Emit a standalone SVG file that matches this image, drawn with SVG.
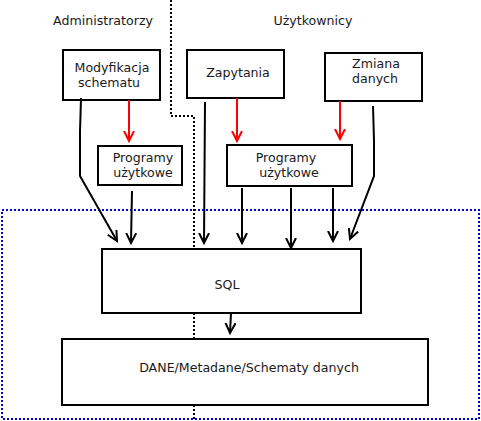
<svg xmlns="http://www.w3.org/2000/svg" width="481" height="421" viewBox="0 0 481 421">
<style>
.box{fill:#fff;stroke:#000;stroke-width:2}
.t{font-family:"DejaVu Sans",sans-serif;font-size:12.6px;fill:#1a1a1a;text-anchor:middle}
.c{fill:none;stroke:#000;stroke-width:2}
.r{fill:none;stroke:#f00;stroke-width:2}
</style>
<defs>
<marker id="ab" markerWidth="12" markerHeight="12" refX="10" refY="5" orient="auto" markerUnits="userSpaceOnUse" viewBox="0 0 12 10">
<path d="M0,0 L10,5 L0,10" fill="none" stroke="#000" stroke-width="2"/>
</marker>
<marker id="ar" markerWidth="12" markerHeight="12" refX="10" refY="5" orient="auto" markerUnits="userSpaceOnUse" viewBox="0 0 12 10">
<path d="M0,0 L10,5 L0,10" fill="none" stroke="#f00" stroke-width="2"/>
</marker>
</defs>
<g id="regions">
<rect x="2" y="210" width="477" height="209" fill="none" stroke="#00c" stroke-width="2" stroke-dasharray="2,2"/>
<path d="M171,0 V116 H194 V419" fill="none" stroke="#000" stroke-width="2" stroke-dasharray="2,2"/>
</g>
<g id="label-admin"><text class="t" x="103" y="25">Administratorzy</text></g>
<g id="label-users"><text class="t" x="313" y="25">Użytkownicy</text></g>
<g id="mod"><rect class="box" x="63" y="50" width="97" height="50"/><text class="t" x="112" y="72">Modyfikacja</text><text class="t" x="109" y="87">schematu</text></g>
<g id="zap"><rect class="box" x="187" y="50" width="97" height="48"/><text class="t" x="238" y="77">Zapytania</text></g>
<g id="zm"><rect class="box" x="325" y="53" width="97" height="48"/><text class="t" x="376" y="68">Zmiana</text><text class="t" x="375" y="83">danych</text></g>
<g id="prog1"><rect class="box" x="98" y="146" width="84" height="39"/><text class="t" x="143" y="162">Programy</text><text class="t" x="143" y="177">użytkowe</text></g>
<g id="prog2"><rect class="box" x="227" y="145" width="125" height="41"/><text class="t" x="286" y="162">Programy</text><text class="t" x="289" y="177">użytkowe</text></g>
<g id="sql"><rect class="box" x="102" y="249" width="259" height="64"/><text class="t" x="227" y="289">SQL</text></g>
<g id="dane"><rect class="box" x="62" y="339" width="366" height="66"/><text class="t" x="249" y="372">DANE/Metadane/Schematy danych</text></g>
<g id="connectors">
<path class="r" d="M129,100 V141" marker-end="url(#ar)"/>
<path class="r" d="M237,98 V141" marker-end="url(#ar)"/>
<path class="r" d="M340,101 V139" marker-end="url(#ar)"/>
<path class="c" d="M81,98 L80,132 L80,176 L117,241" marker-end="url(#ab)"/>
<path class="c" d="M132,191 L131,243" marker-end="url(#ab)"/>
<path class="c" d="M205,102 L204,243" marker-end="url(#ab)"/>
<path class="c" d="M242,188 V243" marker-end="url(#ab)"/>
<path class="c" d="M291,188 V248" marker-end="url(#ab)"/>
<path class="c" d="M333,188 V241" marker-end="url(#ab)"/>
<path class="c" d="M373,106 L374,141 L374,176 L350,239" marker-end="url(#ab)"/>
<path class="c" d="M231,313 L230,333" marker-end="url(#ab)"/>
</g>
</svg>
